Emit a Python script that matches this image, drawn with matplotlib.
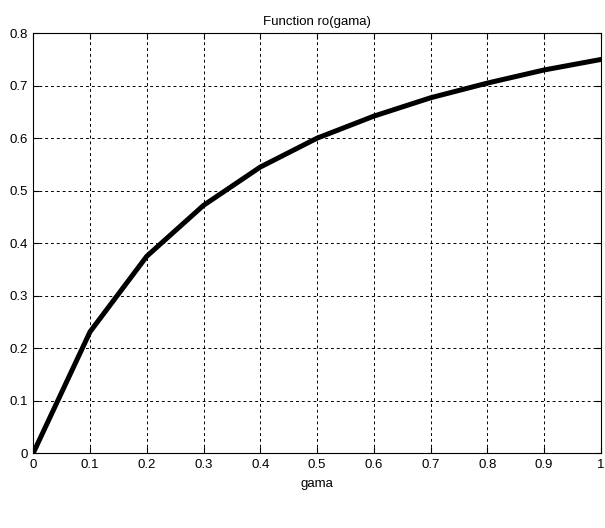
import matplotlib.pyplot as plt

# values
gama = [0, 0.1, 0.2, 0.3, 0.4, 0.5, 0.6, 0.7, 0.8, 0.9, 1.0]
ro = [0, 0.231, 0.375, 0.472, 0.545, 0.600, 0.642, 0.677, 0.705, 0.730, 0.750]
xticks = [0, 0.1, 0.2, 0.3, 0.4, 0.5, 0.6, 0.7, 0.8, 0.9, 1]
xtick_labels = ['0', '0.1', '0.2', '0.3', '0.4', '0.5', '0.6', '0.7', '0.8', '0.9', '1']
yticks = [0, 0.1, 0.2, 0.3, 0.4, 0.5, 0.6, 0.7, 0.8]
ytick_labels = ['0', '0.1', '0.2', '0.3', '0.4', '0.5', '0.6', '0.7', '0.8']

plt.rcParams['font.family'] = ['Liberation Sans', 'DejaVu Sans']

fig = plt.figure(figsize=(6.05, 5.28), dpi=100)
ax = fig.add_axes([0.055, 0.142, 0.938, 0.795])

ax.plot(gama, ro, color='black', linewidth=3.6, solid_joinstyle='miter')

ax.set_xlim(0, 1)
ax.set_ylim(0, 0.8)
ax.set_xticks(xticks)
ax.set_xticklabels(xtick_labels)
ax.set_yticks(yticks)
ax.set_yticklabels(ytick_labels)
ax.tick_params(direction='in', length=4, width=0.8, top=True, right=True,
               labelsize=9.5, pad=4)
ax.grid(True, color='black', linestyle=(0, (3, 3)), linewidth=0.7)
for s in ax.spines.values():
    s.set_linewidth(0.8)

ax.set_title('Function ro(gama)', fontsize=9.5, pad=6)
ax.set_xlabel('gama', fontsize=9.5, labelpad=5)

fig.savefig('out.png', dpi=100)
